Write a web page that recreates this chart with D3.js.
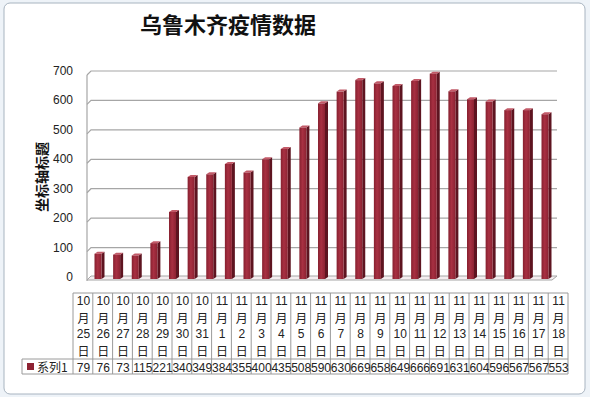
<!DOCTYPE html>
<html><head><meta charset="utf-8">
<script src="https://cdn.jsdelivr.net/npm/d3@7/dist/d3.min.js"></script>
<style>html,body{margin:0;padding:0;background:#fff;}svg{display:block;}</style>
</head><body>
<script>
const title = "乌鲁木齐疫情数据";
const yTitle = "坐标轴标题";
const seriesName = "系列1";
const months = ["10","10","10","10","10","10","10","11","11","11","11","11","11","11","11","11","11","11","11","11","11","11","11","11","11"];
const days = ["25","26","27","28","29","30","31","1","2","3","4","5","6","7","8","9","10","11","12","13","14","15","16","17","18"];
const values = [79,76,73,115,221,340,349,384,355,400,435,508,590,630,669,658,649,666,691,631,604,596,567,567,553];
const yTicks = [0,100,200,300,400,500,600,700];

const W = 590, H = 397;
const font = "'Liberation Sans','Noto Sans CJK SC',sans-serif";
const cjk = "'Noto Sans CJK SC',sans-serif";
const cats = days.map((d,i)=>months[i]+"-"+d);

const svg = d3.select("body").append("svg").attr("width",W).attr("height",H);
const defs = svg.append("defs");
const g1 = defs.append("linearGradient").attr("id","barg").attr("x1","0").attr("x2","1").attr("y1","0").attr("y2","0");
g1.append("stop").attr("offset","0").attr("stop-color","#86202f");
g1.append("stop").attr("offset","0.45").attr("stop-color","#a83042");
g1.append("stop").attr("offset","1").attr("stop-color","#8c2232");

// background (spreadsheet frame)
svg.append("rect").attr("width",W).attr("height",H).attr("fill","#eef3f8");
svg.append("rect").attr("x",4).attr("y",3).attr("width",W-9).attr("height",H-6).attr("rx",6)
  .attr("fill","#fff").attr("stroke","#a8b4c0").attr("stroke-width",1);

// title
svg.append("text").attr("x",228).attr("y",33).attr("text-anchor","middle")
  .attr("font-family",cjk).attr("font-weight","bold").attr("font-size",22).attr("fill","#111").text(title);

// scales
const y = d3.scaleLinear().domain([0,700]).range([277,71]);
const x = d3.scalePoint().domain(cats).range([98,545]);
const dx = 4, dy = -4, wallL = 87, wallR = 557;

// left wall edge and gridlines
const grid = svg.append("g").attr("stroke","#a6a6a6").attr("fill","none").attr("stroke-width",1.2);
grid.append("line").attr("x1",wallL).attr("x2",wallL).attr("y1",y(700)+4).attr("y2",y(0)+4);
grid.selectAll("path").data(yTicks.slice(1)).join("path")
  .attr("d",d=>`M${wallL},${y(d)+4} L${wallL+dx},${y(d)} L${wallR},${y(d)}`);
// floor
const fy = y(0)+3;
svg.append("path").attr("d",`M${wallL},${fy} L${wallL+dx},${fy+dy} L${wallR},${fy+dy} L${wallR-dx-1},${fy} Z`)
  .attr("fill","#f4eef0").attr("stroke","#a6a6a6").attr("stroke-width",1);

// y tick labels
svg.append("g").selectAll("text").data(yTicks).join("text")
  .attr("x",73).attr("y",d=>y(d)+4).attr("text-anchor","end")
  .attr("font-family",font).attr("font-size",12).attr("fill","#222").text(d=>d);
// y title
svg.append("text").attr("transform","translate(47,177) rotate(-90)").attr("text-anchor","middle")
  .attr("font-family",cjk).attr("font-weight","bold").attr("font-size",14).attr("fill","#111").text(yTitle);

// bars
const bw = 7, sd = 3, sh = -2;
const bars = svg.append("g").selectAll("g").data(values).join("g");
bars.each(function(v,i){
  const gg = d3.select(this);
  const cx = x(cats[i]), x0 = cx-bw/2, x1 = cx+bw/2, top = y(v), bot = y(0)+2;
  gg.append("path").attr("d",`M${x1},${top} L${x1+sd},${top+sh} L${x1+sd},${bot+sh} L${x1},${bot} Z`).attr("fill","#5e1420");
  gg.append("path").attr("d",`M${x0},${top} L${x0+sd},${top+sh} L${x1+sd},${top+sh} L${x1},${top} Z`).attr("fill","#c25a68");
  gg.append("rect").attr("x",x0).attr("y",top).attr("width",bw).attr("height",bot-top).attr("fill","url(#barg)");
});

// data table
const tx = d3.scaleBand().domain(cats).range([73,568]);
const tTop = 293, tMid = 359, tBot = 374, legX = 22;
const tb = svg.append("g").attr("stroke","#9a9a9a").attr("stroke-width",1).attr("fill","none");
tb.append("path").attr("d",`M73,${tTop} H568 V${tBot} H${legX} V${tMid} H568`);
tb.selectAll("line").data(cats).join("line")
  .attr("x1",d=>tx(d)).attr("x2",d=>tx(d)).attr("y1",tTop).attr("y2",tBot);

const hdr = svg.append("g").attr("font-family",font).attr("font-size",12).attr("fill","#222").attr("text-anchor","middle");
cats.forEach((c,i)=>{
  const cx = tx(c)+tx.bandwidth()/2+0.5;
  hdr.append("text").attr("x",cx).attr("y",305).text(months[i]);
  hdr.append("text").attr("x",cx).attr("y",323).attr("font-family",cjk).text("月");
  hdr.append("text").attr("x",cx).attr("y",338).text(days[i]);
  hdr.append("text").attr("x",cx).attr("y",356).attr("font-family",cjk).text("日");
  hdr.append("text").attr("x",cx).attr("y",371.5).text(values[i]);
});
// legend key
svg.append("rect").attr("x",27).attr("y",363).attr("width",7).attr("height",7).attr("fill","#8e2232");
svg.append("text").attr("x",37).attr("y",371.5).attr("font-family",cjk).attr("font-size",12).attr("fill","#222").text(seriesName);
</script>
</body></html>
